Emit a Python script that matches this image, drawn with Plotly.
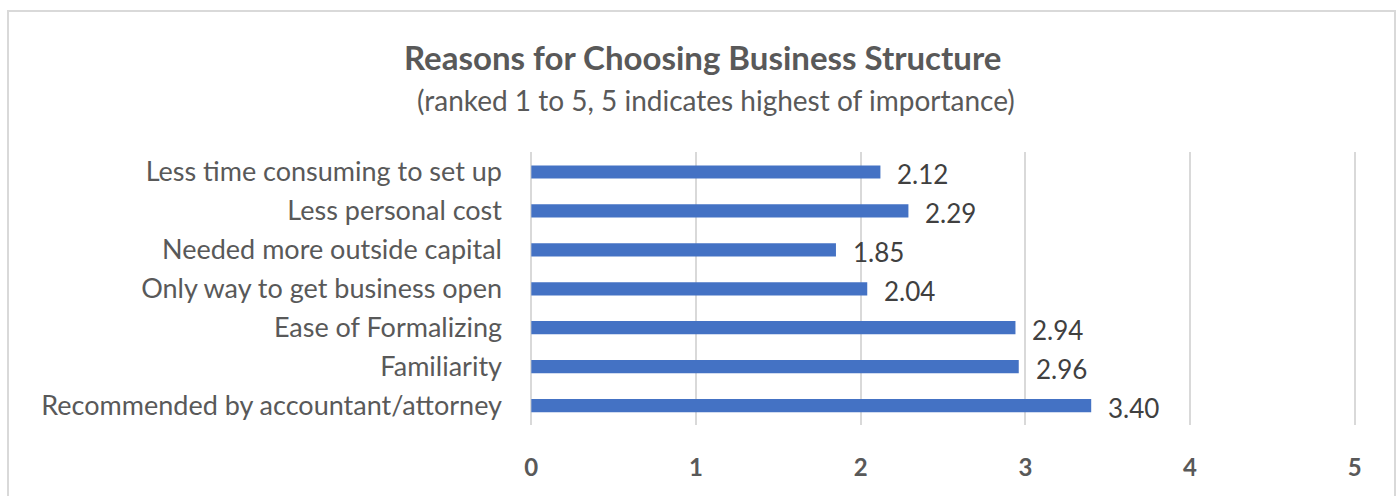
import plotly.graph_objects as go

categories = [
    "Less time consuming to set up",
    "Less personal cost",
    "Needed more outside capital",
    "Only way to get business open",
    "Ease of Formalizing",
    "Familiarity",
    "Recommended by accountant/attorney",
]
values = [2.12, 2.29, 1.85, 2.04, 2.94, 2.96, 3.40]
x_ticks = [0, 1, 2, 3, 4, 5]

title = "Reasons for Choosing Business Structure"
subtitle = "(ranked 1 to 5, 5 indicates highest of importance)"

FONT = "Lato"
BAR = "#4472C4"
GRID = "#D9D9D9"

W, H = 1399, 496
ml, mr, mt, mb = 530, 43, 152, 71
pw = W - ml - mr
ph = H - mt - mb

def px_x(p):
    return (p - ml) / pw

def px_y(p):
    return (H - mb - p) / ph

fig = go.Figure()
fig.add_trace(go.Bar(
    y=categories, x=values, orientation="h",
    marker=dict(color=BAR, line=dict(width=0)),
    width=0.34, hoverinfo="skip",
))

for c, v in zip(categories, values):
    fig.add_annotation(x=v, y=c, xref="x", yref="y", text=f"{v:.2f}",
                       showarrow=False, xanchor="left", yanchor="middle", xshift=15, yshift=-2,
                       font=dict(family=FONT, size=26, color="#404040"))

fig.add_annotation(x=px_x(702), y=px_y(57), xref="paper", yref="paper",
                   xanchor="center", yanchor="middle",
                   text=f"<b>{title}</b>", showarrow=False,
                   font=dict(family=FONT, size=33, color="#595959"))
fig.add_annotation(x=px_x(716), y=px_y(100), xref="paper", yref="paper",
                   xanchor="center", yanchor="middle",
                   text=subtitle, showarrow=False,
                   font=dict(family=FONT, size=28, color="#595959"))

fig.add_shape(type="rect", xref="paper", yref="paper",
              x0=px_x(8), x1=px_x(1395), y0=px_y(520), y1=px_y(11),
              line=dict(color=GRID, width=2), layer="below")

fig.update_layout(
    width=W, height=H,
    margin=dict(l=ml, r=mr, t=mt, b=mb, pad=0),
    paper_bgcolor="white", plot_bgcolor="white",
    showlegend=False,
    xaxis=dict(range=[-0.008, 5.008], tickvals=x_ticks, ticktext=[str(t) for t in x_ticks],
               showgrid=True, gridcolor=GRID, gridwidth=2,
               zeroline=True, zerolinecolor=GRID, zerolinewidth=2,
               showline=False, ticks="", ticklabelstandoff=26,
               tickfont=dict(family=FONT, size=24, color="#595959", weight="bold")),
    yaxis=dict(autorange="reversed", showgrid=False, zeroline=False, showline=False,
               ticks="", ticklabelstandoff=27,
               tickfont=dict(family=FONT, size=27, color="#595959")),
)

fig.write_html("out.html")
